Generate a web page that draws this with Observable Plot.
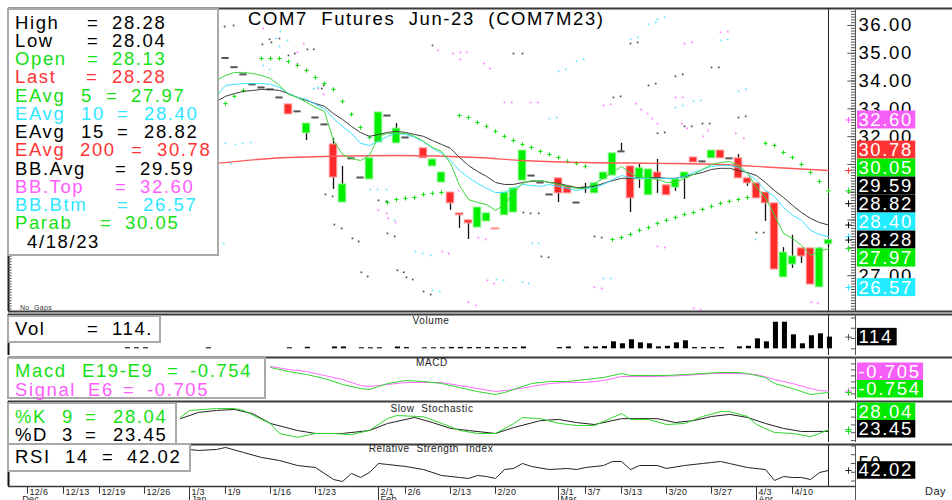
<!DOCTYPE html>
<html>
<head>
<meta charset="utf-8">
<script src="https://cdn.jsdelivr.net/npm/d3@7"></script>
<script src="https://cdn.jsdelivr.net/npm/@observablehq/plot@0.6"></script>
<style>
html,body{margin:0;padding:0;background:#fff;}
#root{position:relative;width:952px;height:500px;overflow:hidden;background:#fff;font-family:"Liberation Sans",Arial,Helvetica,sans-serif;}
.box{position:absolute;background:#fff;border:2px solid #a9a9a9;box-sizing:border-box;}
.t{position:absolute;white-space:pre;line-height:1;transform:translateY(-50%);}
.c{position:absolute;white-space:pre;line-height:1;transform:translate(-50%,-50%);}
</style>
</head>
<body>
<div id="root"></div>
<script>
// ---------- colours ----------
const GREEN = "#14e014", RED = "#ff3333", CYAN = "#2ee6ff", PINK = "#ff5cff", BLACK = "#000000";
const CANDLE_UP = "#00f000", CANDLE_DN = "#ff2b2b", GREEN_BOX = "#00ea00", CYAN_BOX = "#22ecff", PINK_BOX = "#f75ef7";

// ---------- daily candles (trading-day index 22 .. 89) ----------
const candleStart = 22;
const opens  = [34.83,34.50,34.24,33.88,33.77,33.70,33.41,33.16,32.91,32.12,32.69,32.44,31.72,29.63,31.22,30.53,30.46,31.79,32.76,31.76,31.97,null,31.58,30.93,30.35,29.99,29.24,28.99,28.73,28.95,28.70,29.17,29.27,30.42,30.60,30.35,29.92,30.50,30.21,29.63,30.17,29.96,30.46,30.60,31.47,30.93,30.46,29.89,30.71,30.25,30.17,30.50,31.25,31.11,31.22,31.50,31.22,31.22,30.50,30.32,29.99,29.60,26.94,27.40,27.98,27.98,26.58,28.13];
const highs  = [34.83,34.50,34.24,33.88,33.77,33.70,33.41,33.16,32.91,32.47,32.69,32.44,31.94,30.93,31.22,30.53,31.22,32.87,32.76,32.47,31.97,null,31.58,31.18,30.71,29.99,29.24,28.99,29.45,29.24,28.70,29.99,30.14,31.50,30.60,30.35,29.92,30.50,30.21,29.63,30.32,30.32,30.71,31.40,31.76,30.93,31.00,30.82,31.18,30.25,30.46,30.71,31.25,31.11,31.50,31.50,31.22,31.36,30.50,30.32,29.99,29.60,28.01,28.45,27.98,27.98,28.01,28.28];
const lows   = [34.83,34.50,34.24,33.88,33.77,33.70,33.41,32.80,32.91,31.86,32.69,32.44,30.10,29.63,31.22,30.53,30.46,31.79,32.76,31.76,31.97,null,31.22,30.93,30.35,29.35,28.70,28.30,28.73,28.95,28.66,29.17,29.27,30.42,30.60,30.35,29.92,29.63,29.96,29.63,29.96,29.96,30.46,30.60,31.47,29.27,30.14,29.89,29.96,29.89,30.03,29.74,31.07,31.11,31.22,31.22,31.22,30.50,30.21,29.78,28.95,27.22,26.94,27.26,27.44,26.68,26.58,28.04];
const closes = [34.83,34.50,34.24,33.88,33.77,33.70,33.41,32.80,32.91,32.47,32.69,32.44,30.53,30.28,31.22,30.53,31.22,32.87,32.76,32.29,31.97,null,31.22,31.18,30.71,29.60,29.17,28.88,29.45,29.24,28.66,29.99,30.14,31.50,30.60,30.35,29.92,29.96,29.96,29.63,30.17,30.32,30.71,31.40,31.47,29.78,30.86,30.82,30.46,29.89,30.46,30.71,31.07,31.11,31.50,31.22,31.22,30.50,30.32,29.78,29.60,27.22,27.83,27.69,27.69,26.68,27.98,28.28];

// ---------- moving averages (index 21 .. 89) ----------
const emaStart = 21;
const ema5  = [34.02,34.20,34.31,34.31,34.27,34.20,34.09,33.84,33.52,33.41,33.23,33.05,32.91,31.86,31.36,31.22,31.14,31.32,32.01,32.12,32.12,32.12,32.01,31.83,31.61,31.47,31.04,30.24,29.74,29.63,29.56,29.35,29.56,29.96,30.32,30.42,30.42,30.35,30.28,30.21,30.14,30.14,30.32,30.50,30.71,30.93,30.68,30.53,30.53,30.46,30.35,30.35,30.50,30.64,30.82,31.00,31.07,31.11,30.96,30.68,30.17,29.81,29.17,28.52,28.34,28.09,27.73,27.87,27.97];
const ema10 = [33.45,33.84,33.88,33.91,33.91,33.91,33.88,33.77,33.55,33.41,33.34,33.16,33.01,32.65,32.37,32.12,31.76,31.68,31.83,32.01,32.12,32.08,31.97,31.83,31.58,31.40,31.14,30.78,30.53,30.32,30.14,29.99,29.99,30.14,30.28,30.24,30.21,30.28,30.21,30.14,30.06,30.14,30.17,30.28,30.46,30.60,30.53,30.50,30.50,30.50,30.50,30.50,30.57,30.71,30.82,30.93,30.96,30.96,30.89,30.68,30.42,30.06,29.85,29.45,29.17,28.99,28.63,28.48,28.40];
const ema15 = [33.27,33.45,33.55,33.63,33.66,33.70,33.70,33.66,33.55,33.41,33.30,33.19,33.09,32.83,32.62,32.37,32.15,32.01,32.08,32.15,32.19,32.15,32.08,32.01,31.86,31.72,31.58,31.25,30.96,30.75,30.57,30.35,30.28,30.28,30.35,30.39,30.42,30.35,30.32,30.24,30.17,30.17,30.21,30.32,30.42,30.50,30.50,30.53,30.53,30.53,30.50,30.50,30.57,30.64,30.71,30.82,30.86,30.86,30.78,30.71,30.60,30.35,30.06,29.81,29.53,29.27,29.06,28.91,28.82];
const ema200Days = [21,29,41,50,55,62,70,77,83,89];
const ema200     = [31.04,31.25,31.32,31.25,31.14,31.07,31.04,31.00,30.89,30.78];

// ---------- parabolic SAR ----------
const sarDays = [22,23,24,26,27,28,29,30,31,32,33,34,35,36,37,38,40,41,42,43,44,45,46,48,49,50,51,52,53,54,55,56,57,58,59,60,61,62,65,66,67,68,69,70,71,72,73,74,75,76,77,78,79,80,81,82,83,84,85,86,87,88,89];
const sarVals = [33.19,33.45,33.66,34.81,34.81,34.81,34.70,34.56,34.38,34.13,33.91,33.70,33.27,32.80,32.33,31.97,29.63,29.74,29.78,29.81,29.92,29.96,29.99,32.76,32.69,32.51,32.37,32.19,32.01,31.86,31.72,31.61,31.47,31.36,31.25,31.11,31.04,30.93,28.30,28.37,28.48,28.63,28.73,28.88,28.99,29.09,29.20,29.27,29.38,29.49,29.60,29.67,29.74,29.81,29.89,31.76,31.68,31.43,31.25,31.00,30.71,30.39,30.05];

// ---------- Bollinger dotted traces [day, price] ----------
const dotsBlack = [[21.9,35.96],[22.9,36.0],[26.1,35.32],[27.1,35.39],[26.9,35.5],[28.0,35.53],[29.0,34.92],[29.7,34.99],[31.1,35.14],[31.8,35.14],[32.7,33.73],[32.9,33.84],[45.0,35.28],[54.0,34.99],[55.0,34.99],[33.1,29.92],[33.9,29.85],[34.1,28.84],[34.9,28.70],[36.1,28.34],[36.8,28.23],[37.1,27.12],[37.8,26.97],[39.0,29.71],[39.9,29.67],[40.0,28.52],[40.8,28.41],[41.1,27.19],[41.8,27.12],[42.1,26.94],[42.8,26.86],[44.0,26.43],[44.8,26.32],[55.1,29.27],[55.9,29.24],[56.8,29.24],[57.1,27.69],[57.9,27.66],[63.0,28.41],[63.8,28.37],[81.0,28.55],[81.8,28.55],[65.1,33.41],[65.9,33.45],[67.0,35.35],[67.8,35.39],[76.0,34.49],[76.8,34.49],[72.0,34.17],[72.8,34.24],[69.0,33.84],[69.8,33.91],[79.0,32.69],[79.8,32.73],[73.0,32.37],[73.8,32.37],[75.0,32.47],[75.8,32.47],[70.0,32.12],[70.8,32.15]];
const dotsPink = [[26.2,35.89],[30.7,35.35],[30.0,35.03],[30.0,34.63],[31.0,34.42],[32.3,33.73],[32.9,33.52],[45.6,35.10],[47.3,34.99],[48.1,35.03],[48.8,35.03],[48.1,34.78],[50.7,34.63],[51.4,34.45],[53.0,33.23],[53.8,33.23],[55.9,33.23],[56.7,33.23],[39.0,29.35],[39.9,29.24],[40.1,29.06],[40.9,28.91],[46.1,27.87],[46.8,27.80],[50.1,28.37],[50.9,28.30],[51.1,26.83],[51.8,26.72],[49.0,26.04],[49.8,25.93],[70.0,28.05],[70.8,28.01],[63.0,26.58],[63.8,26.54],[74.0,25.82],[74.8,25.78],[87.1,26.04],[87.8,26.00],[64.0,33.12],[64.8,33.16],[77.0,35.75],[77.8,35.78],[73.0,35.35],[73.8,35.39],[72.0,33.41],[72.8,33.41],[67.6,33.19],[68.2,32.98],[68.9,32.83],[69.4,32.65],[70.0,32.47],[72.7,32.47],[73.3,32.30],[75.6,32.22],[75.1,32.01],[78.7,32.12],[79.6,31.94],[47.9,30.06]];
const dotsCyan = [[27.6,35.53],[28.1,35.78],[28.9,35.46],[28.0,35.24],[26.2,34.56],[26.9,34.42],[31.8,33.73],[32.3,33.77],[22.0,31.76],[23.1,31.72],[23.9,31.76],[24.8,31.79],[22.6,31.04],[38.1,30.10],[38.9,30.10],[39.9,30.10],[40.8,28.99],[43.1,27.87],[43.9,27.80],[44.8,27.73],[45.0,26.47],[45.8,26.43],[52.1,26.86],[52.9,26.83],[21.8,28.16],[55.0,26.76],[55.7,26.72],[56.1,28.16],[56.8,28.16],[64.0,26.90],[64.8,26.90],[80.9,28.30],[70.8,36.29],[70.0,36.22],[69.0,36.04],[69.8,36.11],[67.0,35.50],[67.8,35.57],[77.1,35.46],[77.8,35.50],[79.0,33.63],[79.8,33.70],[74.0,33.27],[74.8,33.30],[72.0,33.05],[72.8,33.12],[59.0,34.35],[59.8,34.42],[61.0,34.71],[61.8,34.78],[58.0,32.65],[58.8,32.69]];

// ---------- volume ----------
const volDays = [11,12,13,20,29,31,34,35,37,38,39,41,42,44,45,46,47,48,49,50,51,52,53,54,55,59,60,62,63,64,65,66,67,68,69,70,71,72,73,74,75,76,77,79,80,81,82,83,84,85,86,87,88,89];
const volVals = [10,10,10,10,10,15,18,18,10,10,10,18,12,10,10,10,14,14,12,12,12,12,12,12,18,12,18,18,18,22,68,49,88,58,49,19,24,58,78,12,12,12,12,19,24,97,68,259,259,136,49,127,146,114];

// ---------- MACD ----------
const macdDays = [27,29,31,33,35,37,38,39,40,42,44,46,48,50,52,53,54,56,58,60,62,64,66,67,69,71,73,75,77,79,80,82,83,85,87,88,89];
const macdVals = [0.079,-0.054,-0.154,-0.287,-0.487,-0.621,-0.654,-0.554,-0.454,-0.354,-0.387,-0.454,-0.587,-0.721,-0.821,-0.754,-0.654,-0.454,-0.387,-0.387,-0.321,-0.254,-0.121,-0.187,-0.187,-0.187,-0.154,-0.121,-0.087,-0.087,-0.121,-0.254,-0.454,-0.621,-0.821,-0.787,-0.754];
const sigDays = [27,29,31,33,35,37,38,40,42,44,46,48,50,52,54,56,58,60,62,64,66,68,70,73,76,79,81,83,85,87,88,89];
const sigVals = [0.113,0.013,-0.054,-0.187,-0.321,-0.521,-0.554,-0.487,-0.421,-0.421,-0.421,-0.521,-0.621,-0.721,-0.654,-0.554,-0.454,-0.421,-0.421,-0.354,-0.221,-0.221,-0.221,-0.187,-0.121,-0.121,-0.154,-0.321,-0.454,-0.621,-0.687,-0.705];

// ---------- slow stochastic ----------
const kDays = [17,18,21,23,24,27,28,30,32,34,36,38,40,41,44,46,48,50,52,54,55,57,59,61,63,65,66,67,69,71,73,75,77,78,80,81,83,85,87,88,89];
const kVals = [59,77,82,82,77,43,18,8,18,18,15,26,56,64,61,44,26,18,18,43,59,56,44,38.5,38.5,59,69,54,54,41,43.6,61.5,74,74,61.5,41,20.5,18,10,18,28.04];
const dDays = [17,19,21,23,25,27,30,32,35,38,40,43,45,47,49,52,54,57,59,61,63,66,68,70,72,74,76,78,80,82,84,86,89];
const dVals = [56,72,77,79.5,69,43.6,25.6,18,18,25.6,43.6,59,46,31,25.6,18,33,51,54,46,41,56,56,56,46,51,61.5,67,59,43.6,31,23,23.45];

// ---------- RSI ----------
const rsiDays = [18,19,21,22,24,26,28,30,32,34,35,36,37,38,39,40,42,44,46,48,49,50,51,52,53,54,55,56,58,60,61,62,64,65,66,67,68,70,71,73,75,76,77,78,80,82,83,84,85,86,87,88,89];
const rsiVals = [66,64.9,66,68.3,62.6,56.9,53.4,47.7,45.4,31.7,29.4,38.6,34,39.7,50,48.9,46.6,43.1,36.3,34,32.9,36.3,35.1,32.9,43.1,44.3,50,46.6,43.1,44.3,43.1,45.4,47.7,52.3,52.3,43.1,47.7,47.7,44.3,47.7,50,51.1,52.3,50,45.4,43.1,30.6,35.1,34,34,31.7,39.7,42.02];

// ---------- date axis ----------
const dateTickDays   = [0,4,8,13,18,22,27,32,39,42,47,52,59,62,66,71,76,81,85];
const dateTickLabels = ["12/6","12/13","12/19","12/26","1/3","1/9","1/16","1/23","2/1","2/6","2/13","2/20","3/1","3/7","3/13","3/20","3/27","4/3","4/10"];
const monthDays   = [-0.8,18,39,59,81];
const monthLabels = ["Dec","Jan","Feb","Mar","Apr"];
const priceTicks = [27,28,29,30,31,32,33,34,35,36];

// ---------- read-out boxes ----------
const infoLabels = ["High","Low","Open","Last","EAvg","EAvg","EAvg","EAvg","BB.Avg","BB.Top","BB.Btm","Parab"];
const infoParams = ["","","","","5","10","15","200","","","",""];
const infoValues = ["28.28","28.04","28.13","28.28","27.97","28.40","28.82","30.78","29.59","32.60","26.57","30.05"];
const infoColors = [BLACK,BLACK,GREEN,RED,GREEN,CYAN,BLACK,RED,BLACK,PINK,CYAN,GREEN];
const lastDate = "4/18/23";
const mainLabelValues = [32.60,30.78,30.05,29.59,28.82,28.40,28.28,27.97,26.57];
const mainLabelBg     = [PINK_BOX,RED,GREEN_BOX,BLACK,BLACK,CYAN_BOX,BLACK,GREEN_BOX,CYAN_BOX];
const mainLabelMk     = [PINK,RED,GREEN,BLACK,BLACK,CYAN,BLACK,GREEN,CYAN];
const lastPrice = 28.28;

// =================== drawing ===================
const root = document.getElementById("root");
const XMIN = -2.111, XLAST = 89, XR = 102.8, AXIS_X = 92, MARK_X = 91.22, LBL_X = 92.22, DAY_PX = 9;
const STYLE = "font-family:'Liberation Sans',Arial,sans-serif;letter-spacing:1.6px;overflow:visible;background:transparent;";

function mount(svg, top) { svg.style.position = "absolute"; svg.style.left = "0px"; svg.style.top = top + "px"; root.appendChild(svg); }
function textW(s) { let w = 0; for (const ch of s) w += (ch === "." ? 5.1 : ch === "-" ? 6.2 : 10.3) + 1.6; return w + 4; }

function stackLabels(items, yDomain, height, mt, mb, anchor, h, pad) {
  const sc = Plot.scale({y: {domain: yDomain, range: [height - mb, mt]}});
  const arr = items.map(d => ({...d, px: sc.apply(d.value)}));
  const minC = mt + h / 2 + pad, maxC = height - mb - h / 2 - pad;
  const a = arr[anchor];
  a.pos = Math.max(minC, Math.min(maxC, a.px));
  const s = arr.slice().sort((p, q) => p.px - q.px);
  const k = s.indexOf(a);
  for (let j = k - 1; j >= 0; j--) s[j].pos = Math.min(s[j].px, s[j + 1].pos - h);
  for (let j = k + 1; j < s.length; j++) s[j].pos = Math.max(s[j].px, s[j - 1].pos + h);
  return arr.map(d => ({...d, yc: sc.invert(d.pos), y1: sc.invert(d.pos + h / 2), y2: sc.invert(d.pos - h / 2), w: textW(d.text)}));
}
function labelMarks(boxes) {
  return [
    Plot.rect(boxes, {x1: LBL_X, x2: d => LBL_X + d.w / DAY_PX, y1: "y1", y2: "y2", fill: "bg"}),
    Plot.text(boxes, {x: LBL_X, y: "yc", text: "text", fill: "fg", textAnchor: "start", fontSize: 18.5, dx: 1}),
    Plot.dot(boxes, {x: MARK_X, y: "value", symbol: "plus", r: 2.2, stroke: "mk", strokeWidth: 1})
  ];
}
function frameMarks(dom, ticks) {
  return [
    Plot.ruleY([dom[1]], {x1: XMIN, x2: XR, stroke: "#3a3a3a", strokeWidth: 2}),
    Plot.ruleX([XMIN], {y1: dom[0], y2: dom[1], stroke: "#111", strokeWidth: 2}),
    Plot.ruleX([XLAST], {y1: dom[0], y2: dom[1], stroke: "#222", strokeWidth: 1}),
    Plot.ruleX([AXIS_X], {y1: dom[0], y2: dom[1], stroke: "#555", strokeWidth: 1}),
    Plot.ruleY(ticks, {x1: AXIS_X - 0.45, x2: AXIS_X, stroke: "#555", strokeWidth: 1})
  ];
}
function panel(top, height, mt, mb, dom, marks) {
  const svg = Plot.plot({
    width: 952, height, marginLeft: 8, marginRight: 124, marginTop: mt, marginBottom: mb,
    x: {domain: [XMIN, XLAST], axis: null}, y: {domain: dom, axis: null},
    style: STYLE, marks
  });
  mount(svg, top);
}

// ----- main price panel -----
const candles = opens.map((o, k) => ({i: candleStart + k, o, h: highs[k], l: lows[k], c: closes[k]})).filter(d => d.o != null);
const bodies = candles.filter(d => d.o !== d.c);
const flats = candles.filter(d => d.o === d.c);
const wicks = candles.filter(d => d.h > Math.max(d.o, d.c) || d.l < Math.min(d.o, d.c));
const emaRows = ema5.map((v, k) => ({i: emaStart + k, e5: v, e10: ema10[k], e15: ema15[k]}));
const mainDom = [25.71, 36.61];
const minorTicks = d3.range(258, 366).map(v => v / 10);
const mainItems = mainLabelValues.map((v, k) => ({value: v, text: v.toFixed(2), bg: mainLabelBg[k], fg: "white", mk: mainLabelMk[k]}));
const mainBoxes = stackLabels(mainItems, mainDom, 313, 8, 2, mainLabelValues.indexOf(lastPrice), 18, 0);
// tick labels that the value boxes would cover completely are left out (they are hidden in the reference)
const visibleTicks = priceTicks.filter(t => !mainBoxes.some(b => t <= b.y2 && t >= b.y1));
const sq = a => ({x: d => d[0], y: d => d[1], symbol: "square", r: 0.95, fill: a});

panel(0, 313, 8, 2, mainDom, [
  ...frameMarks(mainDom, minorTicks),
  Plot.ruleY([mainDom[0]], {x1: XMIN, x2: XR, stroke: "#3a3a3a", strokeWidth: 2}),
  Plot.ruleY(priceTicks, {x1: AXIS_X - 0.85, x2: AXIS_X, stroke: "#555"}),
  Plot.ruleY(minorTicks, {x1: XMIN, x2: XMIN + 0.4, stroke: "#555"}),
  Plot.dot(dotsPink, sq("#ff7dff")),
  Plot.dot(dotsCyan, sq("#5ce8ff")),
  Plot.dot(dotsBlack, sq("#4a4a4a")),
  Plot.dot(sarDays.map((d, k) => [d, sarVals[k]]), {x: d => d[0], y: d => d[1], symbol: "plus", r: 1.5, stroke: "#10e010", strokeWidth: 1}),
  Plot.ruleX(wicks, {x: "i", y1: "l", y2: "h", stroke: "#111", strokeWidth: 1.3}),
  Plot.rect(bodies, {x1: d => d.i - 0.42, x2: d => d.i + 0.42, y1: d => Math.min(d.o, d.c), y2: d => Math.max(d.o, d.c),
    fill: d => d.c > d.o ? CANDLE_UP : CANDLE_DN, stroke: d => d.c > d.o ? "#8af58a" : "#ff9d9d", strokeWidth: 1}),
  Plot.ruleY(flats, {x1: d => d.i - 0.4, x2: d => d.i + 0.4, y: "c", stroke: "#555", strokeWidth: 2}),
  Plot.line(ema200Days.map((d, k) => [d, ema200[k]]), {x: d => d[0], y: d => d[1], stroke: "#ff5a5a", strokeWidth: 1.4, curve: "monotone-x"}),
  Plot.line(emaRows, {x: "i", y: "e15", stroke: "#3c3c3c", strokeWidth: 1}),
  Plot.line(emaRows, {x: "i", y: "e10", stroke: "#3ee0ff", strokeWidth: 1}),
  Plot.line(emaRows, {x: "i", y: "e5", stroke: "#3ad83a", strokeWidth: 1}),
  Plot.text(visibleTicks, {x: LBL_X, y: d => d, text: d => d.toFixed(2), textAnchor: "start", fontSize: 18.5, dx: 1, fill: "#000"}),
  ...labelMarks(mainBoxes)
]);

// ----- volume -----
const volDom = [-65, 334];
const volBoxes = stackLabels([{value: 114, text: "114", bg: BLACK, fg: "white", mk: "#555"}], volDom, 43, 1, 1, 0, 17.5, 1);
panel(313, 43, 1, 1, volDom, [
  ...frameMarks(volDom, [0, 100, 200, 300]),
  Plot.rect(volDays.map((d, k) => [d, volVals[k]]), {x1: d => d[0] - 0.12, x2: d => d[0] + 0.44, y1: 0, y2: d => d[1], fill: "#000"}),
  ...labelMarks(volBoxes)
]);

// ----- MACD -----
const macdDom = [-0.987, 0.413];
const macdBoxes = stackLabels([
  {value: -0.705, text: "-0.705", bg: PINK_BOX, fg: "white", mk: PINK},
  {value: -0.754, text: "-0.754", bg: GREEN_BOX, fg: "white", mk: GREEN}], macdDom, 44, 1, 1, 1, 17.5, 1.5);
panel(356, 44, 1, 1, macdDom, [
  ...frameMarks(macdDom, [-0.8, -0.6, -0.4, -0.2, 0, 0.2, 0.4]),
  Plot.line(sigDays.map((d, k) => [d, sigVals[k]]), {x: d => d[0], y: d => d[1], stroke: "#ff6cff", strokeWidth: 1}),
  Plot.line(macdDays.map((d, k) => [d, macdVals[k]]), {x: d => d[0], y: d => d[1], stroke: "#2bd82b", strokeWidth: 1}),
  ...labelMarks(macdBoxes)
]);

// ----- slow stochastic -----
const stoDom = [-5.13, 100];
const stoBoxes = stackLabels([
  {value: 28.04, text: "28.04", bg: GREEN_BOX, fg: "white", mk: GREEN},
  {value: 23.45, text: "23.45", bg: BLACK, fg: "white", mk: GREEN}], stoDom, 43, 1, 1, 1, 17.5, 4.5);
panel(400, 43, 1, 1, stoDom, [
  ...frameMarks(stoDom, [0, 20, 40, 60, 80, 100]),
  Plot.line(dDays.map((d, k) => [d, dVals[k]]), {x: d => d[0], y: d => d[1], stroke: "#222", strokeWidth: 1}),
  Plot.line(kDays.map((d, k) => [d, kVals[k]]), {x: d => d[0], y: d => d[1], stroke: "#2bd82b", strokeWidth: 1}),
  ...labelMarks(stoBoxes)
]);

// ----- RSI -----
const rsiDom = [23.71, 71.71];
const rsiBoxes = stackLabels([{value: 42.02, text: "42.02", bg: BLACK, fg: "white", mk: "#222"}], rsiDom, 44, 1, 1, 0, 17.5, 1);
panel(443, 44, 1, 1, rsiDom, [
  ...frameMarks(rsiDom, [30, 40, 50, 60, 70]),
  Plot.ruleY([rsiDom[0]], {x1: XMIN, x2: AXIS_X, stroke: "#3a3a3a", strokeWidth: 1.5}),
  Plot.line(rsiDays.map((d, k) => [d, rsiVals[k]]), {x: d => d[0], y: d => d[1], stroke: "#222", strokeWidth: 1}),
  Plot.text([50], {x: LBL_X, y: d => d, text: d => String(d), textAnchor: "start", fontSize: 18.5, dx: 1, fill: "#000"}),
  ...labelMarks(rsiBoxes)
]);

// ----- date axis -----
const dateRows = dateTickDays.map((d, k) => ({i: d, label: dateTickLabels[k], month: monthDays.includes(d)}));
const monthRows = monthDays.map((d, k) => ({i: d, label: monthLabels[k]}));
const dsvg = Plot.plot({
  width: 952, height: 14, marginLeft: 8, marginRight: 124, marginTop: 0, marginBottom: 0,
  x: {domain: [XMIN, XLAST], axis: null}, y: {domain: [0, 1], axis: null},
  style: "font-family:'Liberation Sans',Arial,sans-serif;letter-spacing:0.3px;overflow:visible;background:transparent;",
  marks: [
    Plot.ruleX(dateRows, {x: "i", y1: 1, y2: d => d.month ? 0 : 0.45, stroke: "#333", strokeWidth: 1}),
    Plot.text(dateRows, {x: "i", y: 0.62, text: "label", textAnchor: "start", dx: 2, fontSize: 9, fill: "#222"}),
    Plot.text(monthRows, {x: "i", y: 0.12, text: "label", textAnchor: "start", dx: 2, fontSize: 9, fill: "#222"}),
    Plot.ruleX([AXIS_X], {y1: 0, y2: 1, stroke: "#555"})
  ]
});
mount(dsvg, 486);

// ----- HTML overlays (read-out boxes, titles) -----
function box(x, y, w, h) { const d = document.createElement("div"); d.className = "box"; Object.assign(d.style, {left: x + "px", top: y + "px", width: w + "px", height: h + "px"}); root.appendChild(d); }
function txt(x, y, s, color, size = 18.5, ls = 1.6, cls = "t") {
  const d = document.createElement("div"); d.className = cls; d.textContent = s;
  Object.assign(d.style, {left: x + "px", top: y + "px", color, fontSize: size + "px", letterSpacing: ls + "px"}); root.appendChild(d);
}

txt(248, 19, "COM7  Futures  Jun-23  (COM7M23)", "#000");
txt(431, 321, "Volume", "#222", 10, 0.6, "c");
txt(432, 362.5, "MACD", "#222", 10, 0.6, "c");
txt(432, 409, "Slow  Stochastic", "#222", 10, 0.6, "c");
txt(431, 449, "Relative  Strength  Index", "#222", 10, 0.6, "c");
txt(20, 307, "No  Gaps", "#333", 7, 0.3);
txt(925, 491, "Day", "#222", 11, 0.5);

box(7, 8, 212, 248);
const eqX  = [87,87,87,86,106,117,117,131,115,115,117,100];
const valX = [112,112,112,112,131,144,144,157,140,140,143,125];
infoLabels.forEach((lab, k) => {
  const y = 22.7 + k * 18.25;
  txt(15, y, lab, infoColors[k]);
  if (infoParams[k]) txt(infoParams[k].length === 3 ? 80 : 81, y, infoParams[k], infoColors[k]);
  txt(eqX[k], y, "=", infoColors[k]);
  txt(valX[k], y, infoValues[k], infoColors[k]);
});
txt(27, 22.7 + 12 * 18.25, lastDate, "#000");

box(7, 315, 154, 28);
txt(15, 329, "Vol", "#000"); txt(87, 329, "=", "#000"); txt(112, 329, "114.", "#000");

box(7, 357, 259, 42);
txt(15, 371, "Macd", GREEN); txt(82, 371, "E19-E9", GREEN); txt(167, 371, "=", GREEN); txt(190, 371, "-0.754", GREEN);
txt(15, 390, "Signal", PINK); txt(88, 390, "E6", PINK); txt(123, 390, "=", PINK); txt(147, 390, "-0.705", PINK);

box(7, 402, 170, 44);
txt(15, 417, "%K", GREEN); txt(62, 417, "9", GREEN); txt(85, 417, "=", GREEN); txt(113, 417, "28.04", GREEN);
txt(15, 435, "%D", "#000"); txt(62, 435, "3", "#000"); txt(85, 435, "=", "#000"); txt(113, 435, "23.45", "#000");

box(7, 443, 184, 29);
txt(15, 457, "RSI", "#000"); txt(65, 457, "14", "#000"); txt(102, 457, "=", "#000"); txt(127, 457, "42.02", "#000");
</script>
</body>
</html>
